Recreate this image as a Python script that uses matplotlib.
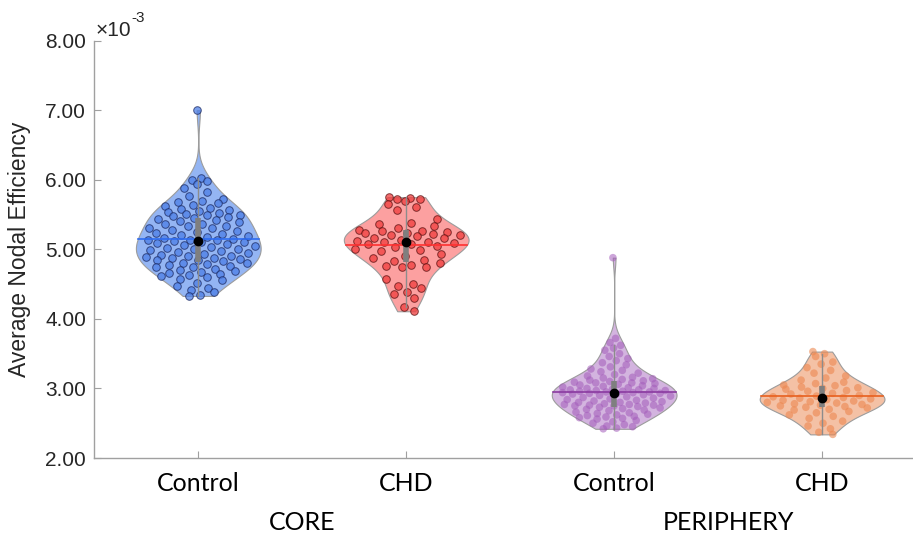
import numpy as np
import matplotlib
matplotlib.use("Agg")
import matplotlib.pyplot as plt
from matplotlib.transforms import blended_transform_factory

# values are in units of 1e-3 (shown with the x10^-3 multiplier)
groups = ["Control", "CHD", "Control", "CHD"]
regions = ["CORE", "PERIPHERY"]

core_control = [7.00, 6.02, 6.00, 5.98, 5.94, 5.88, 5.82, 5.76, 5.73, 5.70,
                5.68, 5.66, 5.64, 5.62, 5.60, 5.58, 5.57, 5.55, 5.54, 5.52,
                5.51, 5.50, 5.49, 5.48, 5.47, 5.45, 5.43, 5.42, 5.41, 5.39,
                5.37, 5.36, 5.34, 5.33, 5.31, 5.30, 5.28, 5.27, 5.25, 5.24,
                5.22, 5.21, 5.19, 5.18, 5.16, 5.15, 5.14, 5.13, 5.13, 5.12,
                5.11, 5.10, 5.09, 5.07, 5.06, 5.05, 5.04, 5.02, 5.01, 5.00,
                4.99, 4.97, 4.96, 4.95, 4.94, 4.92, 4.91, 4.90, 4.89, 4.88,
                4.87, 4.86, 4.85, 4.84, 4.83, 4.81, 4.80, 4.79, 4.78, 4.76,
                4.75, 4.74, 4.72, 4.71, 4.69, 4.68, 4.66, 4.65, 4.63, 4.61,
                4.60, 4.58, 4.56, 4.52, 4.48, 4.45, 4.42, 4.38, 4.35, 4.33]
core_chd = [5.75, 5.74, 5.73, 5.72, 5.70, 5.65, 5.61, 5.56, 5.44, 5.38,
            5.36, 5.33, 5.30, 5.28, 5.27, 5.26, 5.25, 5.24, 5.23, 5.22,
            5.21, 5.20, 5.19, 5.17, 5.16, 5.14, 5.12, 5.11, 5.10, 5.09,
            5.08, 5.07, 5.05, 5.03, 5.01, 4.99, 4.97, 4.94, 4.91, 4.88,
            4.85, 4.83, 4.81, 4.78, 4.76, 4.75, 4.74, 4.58, 4.50, 4.47,
            4.45, 4.39, 4.36, 4.30, 4.17, 4.11]
per_control = [4.88, 3.72, 3.66, 3.62, 3.58, 3.55, 3.50, 3.46, 3.43, 3.40,
               3.37, 3.34, 3.31, 3.28, 3.26, 3.24, 3.22, 3.20, 3.18, 3.16,
               3.15, 3.14, 3.13, 3.12, 3.11, 3.10, 3.09, 3.08, 3.08, 3.07,
               3.06, 3.05, 3.04, 3.03, 3.02, 3.01, 3.00, 3.00, 2.99, 2.98,
               2.98, 2.97, 2.97, 2.96, 2.96, 2.95, 2.95, 2.94, 2.94, 2.93,
               2.93, 2.92, 2.92, 2.91, 2.90, 2.89, 2.88, 2.87, 2.86, 2.85,
               2.84, 2.83, 2.82, 2.81, 2.80, 2.80, 2.79, 2.78, 2.77, 2.77,
               2.76, 2.76, 2.75, 2.75, 2.74, 2.73, 2.72, 2.71, 2.70, 2.69,
               2.68, 2.66, 2.65, 2.64, 2.63, 2.62, 2.61, 2.60, 2.59, 2.58,
               2.57, 2.56, 2.54, 2.52, 2.50, 2.48, 2.46, 2.45, 2.43, 2.42]
per_chd = [3.53, 3.50, 3.46, 3.38, 3.35, 3.30, 3.26, 3.22, 3.18, 3.15,
           3.12, 3.09, 3.07, 3.05, 3.04, 3.02, 3.01, 3.00, 2.99, 2.97,
           2.96, 2.94, 2.93, 2.92, 2.90, 2.89, 2.88, 2.87, 2.86, 2.85,
           2.84, 2.83, 2.82, 2.81, 2.80, 2.79, 2.78, 2.77, 2.76, 2.75,
           2.74, 2.73, 2.72, 2.70, 2.69, 2.67, 2.65, 2.62, 2.60, 2.57,
           2.53, 2.50, 2.46, 2.42, 2.37, 2.34]

series = [core_control, core_chd, per_control, per_chd]

fill_colors = ['#94b5f3', '#fca0a0', '#d3b4df', '#f4c1a5']
dot_colors = ['#4d7fe6', '#f03e3e', '#a35cba', '#ec8750']
line_colors = ['#2f6cf0', '#ff3030', '#8a3aa0', '#e8601e']
dot_edges = ['#1a2860', '#5a1010', 'none', 'none']
dot_alpha = [0.75, 0.75, 0.55, 0.6]


def kde(vals, grid):
    # normal-reference bandwidth
    n = len(vals)
    sig = np.std(vals, ddof=1)
    bw = sig * (4 / (3 * n)) ** 0.2
    z = (grid[:, None] - vals[None, :]) / bw
    return np.exp(-0.5 * z ** 2).sum(axis=1)


fig = plt.figure(figsize=(9.13, 5.34), dpi=100)
ax = fig.add_axes([0.1033, 0.1423, 0.911, 0.7815])

width = 0.3
golden = 0.6180339887
for i, vals in enumerate(series):
    pos = i + 1
    v = np.array(vals)
    grid = np.linspace(v.min(), v.max(), 200)
    d = kde(v, grid)
    d = d / d.max() * width

    ax.fill_betweenx(grid, pos - d, pos + d, facecolor=fill_colors[i],
                     edgecolor='#9c9c9c', linewidth=0.8, zorder=1)

    # spread points inside the violin
    jit = ((np.arange(len(v)) * golden) % 1) * 2 - 1
    xs = pos + 0.92 * jit * np.interp(v, grid, d)
    ax.scatter(xs, v, s=30, facecolor=dot_colors[i], edgecolor=dot_edges[i],
               linewidth=0.7, alpha=dot_alpha[i], zorder=2)

    mean = v.mean()
    half = np.interp(mean, grid, d)
    ax.plot([pos - half, pos + half], [mean, mean], color=line_colors[i],
            linewidth=1.2, zorder=3)

    q1, med, q3 = np.percentile(v, [25, 50, 75])
    iqr = q3 - q1
    lo = v[v >= q1 - 1.5 * iqr].min()
    hi = v[v <= q3 + 1.5 * iqr].max()
    ax.plot([pos, pos], [lo, hi], color='#8c8c8c', linewidth=1.0, zorder=4)
    ax.plot([pos, pos], [q1, q3], color='#7f7f7f', linewidth=4.0,
            solid_capstyle='butt', zorder=5)
    ax.plot(pos, med, 'o', color='black', markersize=6, zorder=6)

ax.set_xlim(0.5, 4.5)
ax.set_ylim(2, 8)
ax.set_yticks(np.arange(2, 8.01, 1))
ax.set_yticklabels([f"{t:.2f}" for t in np.arange(2, 8.01, 1)],
                   fontsize=15, family='Liberation Sans', color='#262626')
ax.set_xticks([1, 2, 3, 4])
ax.set_xticklabels(groups, fontsize=18, family='Lato', color='black')

for side in ['top', 'right']:
    ax.spines[side].set_visible(False)
for side in ['left', 'bottom']:
    ax.spines[side].set_color('#a0a0a0')
    ax.spines[side].set_linewidth(1.0)
ax.tick_params(axis='y', direction='in', length=5, color='#a0a0a0', pad=6)
ax.tick_params(axis='x', direction='in', length=5, color='#a0a0a0', pad=10)

ax.set_ylabel("Average Nodal Efficiency", fontsize=16.5,
              family='Liberation Sans', color='#262626', labelpad=10)

trans = blended_transform_factory(ax.transData, fig.transFigure)
ax.text(1.5, 0.022, regions[0], transform=trans, ha='center', va='center',
        fontsize=18, family='Lato')
ax.text(3.55, 0.022, regions[1], transform=trans, ha='center', va='center',
        fontsize=18, family='Lato')

fig.text(96 / 913, 1 - 36 / 534, "\u00d710", fontsize=15,
         family='Liberation Sans', color='#262626', ha='left', va='baseline')
fig.text(131 / 913, 1 - 22 / 534, "-3", fontsize=11,
         family='Liberation Sans', color='#262626', ha='left', va='baseline')

fig.savefig("out.png", dpi=100)
